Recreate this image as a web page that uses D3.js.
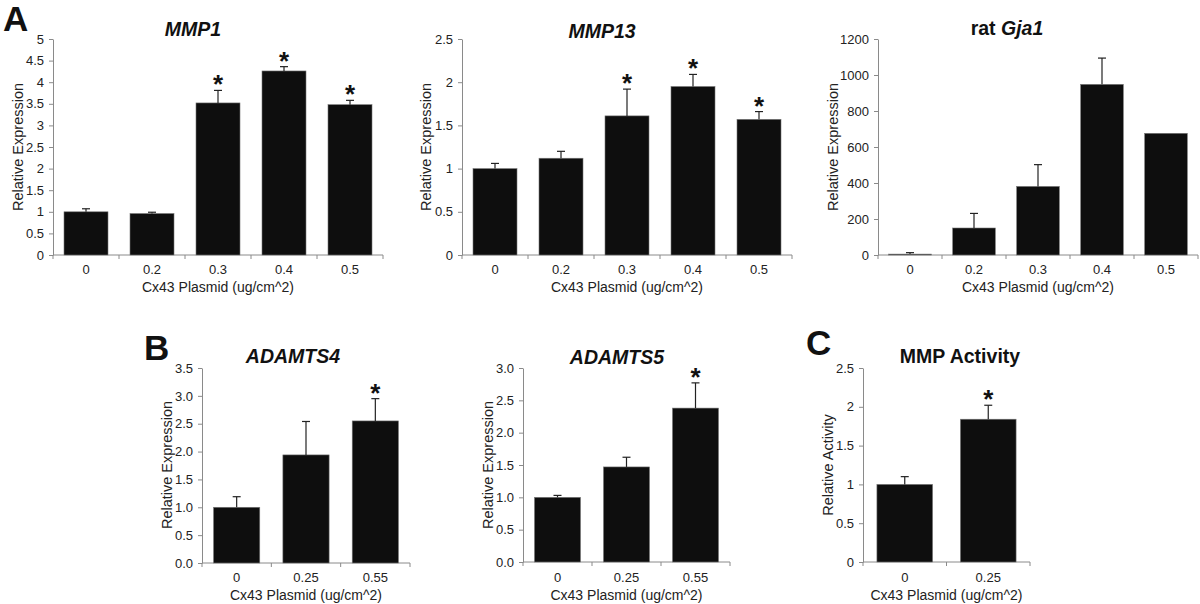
<!DOCTYPE html>
<html>
<head>
<meta charset="utf-8">
<script src="https://cdn.jsdelivr.net/npm/d3@7"></script>
<style>
  html, body { margin: 0; padding: 0; background: #fff; }
  svg { display: block; font-family: "Liberation Sans", Arial, sans-serif; }
</style>
</head>
<body>
<svg id="chart" width="1200" height="604"></svg>
<script>
// ---------- Data ----------
const doseCats5 = ["0", "0.2", "0.3", "0.4", "0.5"];
const doseCats3 = ["0", "0.25", "0.55"];
const doseCats2 = ["0", "0.25"];

const mmp1Values = [1.0, 0.96, 3.52, 4.26, 3.48];
const mmp1Errors = [0.07, 0.03, 0.29, 0.10, 0.10];
const mmp1Sig    = [false, false, true, true, true];
const mmp1Ticks  = [0, 0.5, 1, 1.5, 2, 2.5, 3, 3.5, 4, 4.5, 5];

const mmp13Values = [1.0, 1.12, 1.61, 1.95, 1.57];
const mmp13Errors = [0.06, 0.08, 0.31, 0.14, 0.09];
const mmp13Sig    = [false, false, true, true, true];
const mmp13Ticks  = [0, 0.5, 1, 1.5, 2, 2.5];

const gja1Values = [5, 150, 381, 948, 676];
const gja1Errors = [8, 81, 121, 146, 0];
const gja1Sig    = [false, false, false, false, false];
const gja1Ticks  = [0, 200, 400, 600, 800, 1000, 1200];

const adamts4Values = [1.0, 1.94, 2.55];
const adamts4Errors = [0.19, 0.60, 0.40];
const adamts4Sig    = [false, false, true];
const adamts4Ticks  = [0, 0.5, 1, 1.5, 2, 2.5, 3, 3.5];

const adamts5Values = [1.0, 1.47, 2.38];
const adamts5Errors = [0.03, 0.15, 0.39];
const adamts5Sig    = [false, false, true];
const adamts5Ticks  = [0, 0.5, 1, 1.5, 2, 2.5, 3];

const activityValues = [1.0, 1.84];
const activityErrors = [0.10, 0.18];
const activitySig    = [false, true];
const activityTicks  = [0, 0.5, 1, 1.5, 2, 2.5];

const xLabel = "Cx43 Plasmid (ug/cm^2)";

// ---------- Drawing ----------
const svg = d3.select("#chart");

function drawPanel(p) {
  const g = svg.append("g");
  const x = d3.scaleBand().domain(p.cats).range([p.x0, p.x1]).paddingInner(1/3).paddingOuter(1/6);
  const y = d3.scaleLinear().domain([0, d3.max(p.ticks)]).range([p.y0, p.y1]);

  // y axis
  const yAxis = d3.axisLeft(y).tickValues(p.ticks).tickSizeInner(4).tickSizeOuter(0).tickPadding(5)
    .tickFormat(p.fmt);
  const ya = g.append("g").attr("transform", `translate(${p.x0},0)`).call(yAxis);
  ya.select(".domain").attr("stroke", "#8a8a8a");
  ya.selectAll(".tick line").attr("stroke", "#8a8a8a");
  ya.selectAll(".tick text").attr("fill", "#222").style("font-size", "13px")
    .style("font-family", "'Liberation Sans', Arial, sans-serif");

  // x axis baseline with ticks at band boundaries
  const xa = g.append("g");
  xa.append("line").attr("x1", p.x0).attr("x2", p.x1).attr("y1", p.y0).attr("y2", p.y0)
    .attr("stroke", "#8a8a8a");
  const step = x.step();
  const bounds = d3.range(p.cats.length + 1).map(i => p.x0 + i * step);
  xa.selectAll("line.tk").data(bounds).join("line").attr("class", "tk")
    .attr("x1", d => d).attr("x2", d => d).attr("y1", p.y0).attr("y2", p.y0 + 4)
    .attr("stroke", "#8a8a8a");
  xa.selectAll("text.cat").data(p.cats).join("text").attr("class", "cat")
    .attr("x", d => x(d) + x.bandwidth() / 2).attr("y", p.tickY)
    .attr("text-anchor", "middle").attr("fill", "#222").style("font-size", "13px")
    .text(d => d);

  // bars
  const data = p.cats.map((c, i) => ({ c, v: p.values[i], e: p.errors[i], s: p.sig[i] }));
  g.selectAll("rect.bar").data(data).join("rect").attr("class", "bar")
    .attr("x", d => x(d.c)).attr("width", x.bandwidth())
    .attr("y", d => y(d.v)).attr("height", d => y(0) - y(d.v))
    .attr("fill", "#0e0e0e").attr("stroke", "#777").attr("stroke-width", 0.6);

  // error bars (upper only)
  const eb = data.filter(d => d.e > 0);
  g.selectAll("line.err").data(eb).join("line").attr("class", "err")
    .attr("x1", d => x(d.c) + x.bandwidth() / 2).attr("x2", d => x(d.c) + x.bandwidth() / 2)
    .attr("y1", d => y(d.v)).attr("y2", d => y(d.v + d.e))
    .attr("stroke", "#222").attr("stroke-width", 1.2);
  g.selectAll("line.cap").data(eb).join("line").attr("class", "cap")
    .attr("x1", d => x(d.c) + x.bandwidth() / 2 - 4).attr("x2", d => x(d.c) + x.bandwidth() / 2 + 4)
    .attr("y1", d => y(d.v + d.e)).attr("y2", d => y(d.v + d.e))
    .attr("stroke", "#222").attr("stroke-width", 1.2);

  // significance asterisks
  g.selectAll("text.sig").data(data.filter(d => d.s)).join("text").attr("class", "sig")
    .attr("x", d => x(d.c) + x.bandwidth() / 2).attr("y", d => y(d.v + d.e) + 3)
    .attr("text-anchor", "middle").style("font-size", "26px").style("font-weight", "bold")
    .attr("fill", "#111").text("*");

  // title
  const t = g.append("text").attr("x", p.titleX).attr("y", p.titleY).attr("text-anchor", "middle")
    .style("font-size", "19.5px").style("font-weight", "bold").attr("fill", "#111");
  p.title.forEach(part => {
    t.append("tspan").style("font-style", part.italic ? "italic" : "normal").text(part.text);
  });

  // y label
  g.append("text").attr("transform", `translate(${p.ylabX},${p.ylabY}) rotate(-90)`)
    .attr("text-anchor", "middle").attr("dominant-baseline", "central")
    .style("font-size", "14.5px").attr("fill", "#222").text(p.yLabel);

  // x label
  g.append("text").attr("x", (p.x0 + p.x1) / 2).attr("y", p.xlabY).attr("text-anchor", "middle")
    .style("font-size", "14px").attr("fill", "#222").text(xLabel);
}

const fmtPlain = d => String(d);
const fmtOne = d3.format(".1f");

drawPanel({ cats: doseCats5, values: mmp1Values, errors: mmp1Errors, sig: mmp1Sig, ticks: mmp1Ticks,
  fmt: fmtPlain, x0: 53, x1: 383, y0: 255, y1: 39, tickY: 274, xlabY: 292,
  title: [{ text: "MMP1", italic: true }], titleX: 193, titleY: 36,
  yLabel: "Relative Expression", ylabX: 17.5, ylabY: 147 });

drawPanel({ cats: doseCats5, values: mmp13Values, errors: mmp13Errors, sig: mmp13Sig, ticks: mmp13Ticks,
  fmt: fmtPlain, x0: 462, x1: 792, y0: 255, y1: 39, tickY: 274, xlabY: 292,
  title: [{ text: "MMP13", italic: true }], titleX: 602, titleY: 38,
  yLabel: "Relative Expression", ylabX: 425.5, ylabY: 147 });

drawPanel({ cats: doseCats5, values: gja1Values, errors: gja1Errors, sig: gja1Sig, ticks: gja1Ticks,
  fmt: fmtPlain, x0: 878, x1: 1198, y0: 255, y1: 39, tickY: 274, xlabY: 292,
  title: [{ text: "rat ", italic: false }, { text: "Gja1", italic: true }], titleX: 1007, titleY: 35,
  yLabel: "Relative Expression", ylabX: 833, ylabY: 147 });

drawPanel({ cats: doseCats3, values: adamts4Values, errors: adamts4Errors, sig: adamts4Sig, ticks: adamts4Ticks,
  fmt: fmtOne, x0: 202, x1: 410, y0: 563, y1: 368, tickY: 582, xlabY: 600,
  title: [{ text: "ADAMTS4", italic: true }], titleX: 293, titleY: 363,
  yLabel: "Relative Expression", ylabX: 167, ylabY: 465 });

drawPanel({ cats: doseCats3, values: adamts5Values, errors: adamts5Errors, sig: adamts5Sig, ticks: adamts5Ticks,
  fmt: fmtOne, x0: 523, x1: 730, y0: 562, y1: 368, tickY: 582, xlabY: 600,
  title: [{ text: "ADAMTS5", italic: true }], titleX: 617, titleY: 364,
  yLabel: "Relative Expression", ylabX: 487.5, ylabY: 465 });

drawPanel({ cats: doseCats2, values: activityValues, errors: activityErrors, sig: activitySig, ticks: activityTicks,
  fmt: fmtPlain, x0: 863, x1: 1030, y0: 562, y1: 368, tickY: 582, xlabY: 600,
  title: [{ text: "MMP Activity", italic: false }], titleX: 960, titleY: 363,
  yLabel: "Relative Activity", ylabX: 827.5, ylabY: 465 });

// panel letters
const letters = [{ t: "A", x: 3, y: 31 }, { t: "B", x: 144, y: 360 }, { t: "C", x: 806, y: 355 }];
svg.selectAll("text.letter").data(letters).join("text").attr("class", "letter")
  .attr("x", d => d.x).attr("y", d => d.y).style("font-size", "35px").style("font-weight", "bold")
  .attr("fill", "#111").text(d => d.t);
</script>
</body>
</html>
